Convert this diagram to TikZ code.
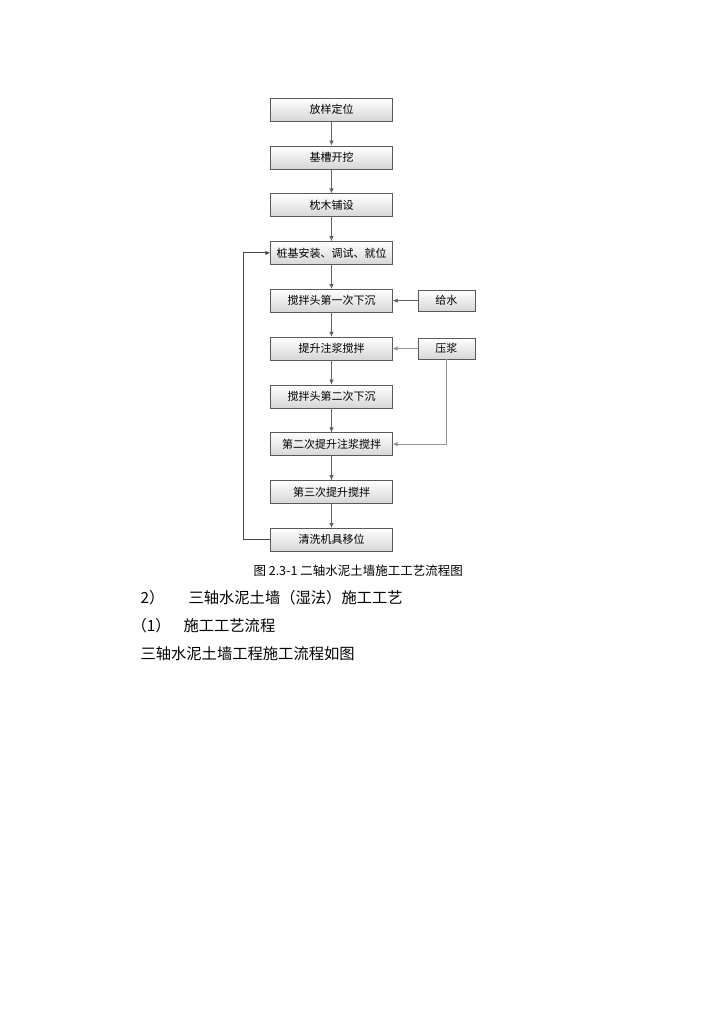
\documentclass[tikz,border=0pt]{standalone}
\usepackage{fontspec}
\setmainfont{Noto Sans CJK SC}
\usetikzlibrary{positioning,arrows.meta}

\tikzset{
  stepbox/.style={draw=black!65, top color=white, bottom color=black!16,
    minimum width=122pt, minimum height=23pt, inner sep=1pt, font=\fontsize{11}{12}\selectfont},
  sidebox/.style={stepbox, minimum width=57pt, minimum height=21pt},
  flow/.style={-{Latex[length=5pt,width=4.5pt]}, draw=black!62, line width=0.75pt},
  feed/.style={-{Latex[length=5pt,width=4.5pt]}, draw=black!42, line width=0.6pt},
  textline/.style={anchor=west, font=\fontsize{15.3}{17}\selectfont},
}

\begin{document}
\begin{tikzpicture}[x=1pt, y=1pt, node distance=24.4pt]
  \useasboundingbox[fill=white] (0,0) rectangle (724,-1024);
  \node (layout) [stepbox] at (331.5,-109.5) {放样定位};
  \node (trench) [stepbox, below=of layout] {基槽开挖};
  \node (sleeper) [stepbox, below=of trench] {枕木铺设};
  \node (pile) [stepbox, below=of sleeper] {桩基安装、调试、就位};
  \node (sink1) [stepbox, below=of pile] {搅拌头第一次下沉};
  \node (lift1) [stepbox, below=of sink1] {提升注浆搅拌};
  \node (sink2) [stepbox, below=of lift1] {搅拌头第二次下沉};
  \node (lift2) [stepbox, below=of sink2] {第二次提升注浆搅拌};
  \node (lift3) [stepbox, below=of lift2] {第三次提升搅拌};
  \node (wash) [stepbox, below=of lift3] {清洗机具移位};
  \node (water) [sidebox, right=25pt of sink1] {给水};
  \node (grout) [sidebox, right=25pt of lift1] {压浆};

  \foreach \a/\b in {layout/trench, trench/sleeper, sleeper/pile, pile/sink1,
      sink1/lift1, lift1/sink2, sink2/lift2, lift2/lift3, lift3/wash}
    \draw[flow] (\a) -- (\b);
  \draw[flow] (water) -- (sink1);
  \draw[feed] (grout) -- (lift1);
  \draw[feed] (grout.south) |- (lift2.east);
  \draw[-{Latex[length=5pt,width=4.5pt]}, draw=black!72, line width=1pt] (wash.west) -- ++(-27,0) |- (pile.west);

  \node (caption) [anchor=west, font=\fontsize{12.5}{14}\selectfont] at (250,-571) {图 2.3-1 二轴水泥土墙施工工艺流程图};
  \node (secnum) [textline] at (137,-598) {2）};
  \node (sectitle) [textline] at (185,-598) {三轴水泥土墙（湿法）施工工艺};
  \node (subnum) [textline] at (128,-626) {（1）};
  \node (subtitle) [textline] at (180,-626) {施工工艺流程};
  \node (body) [textline] at (137,-654) {三轴水泥土墙工程施工流程如图};
\end{tikzpicture}
\end{document}
